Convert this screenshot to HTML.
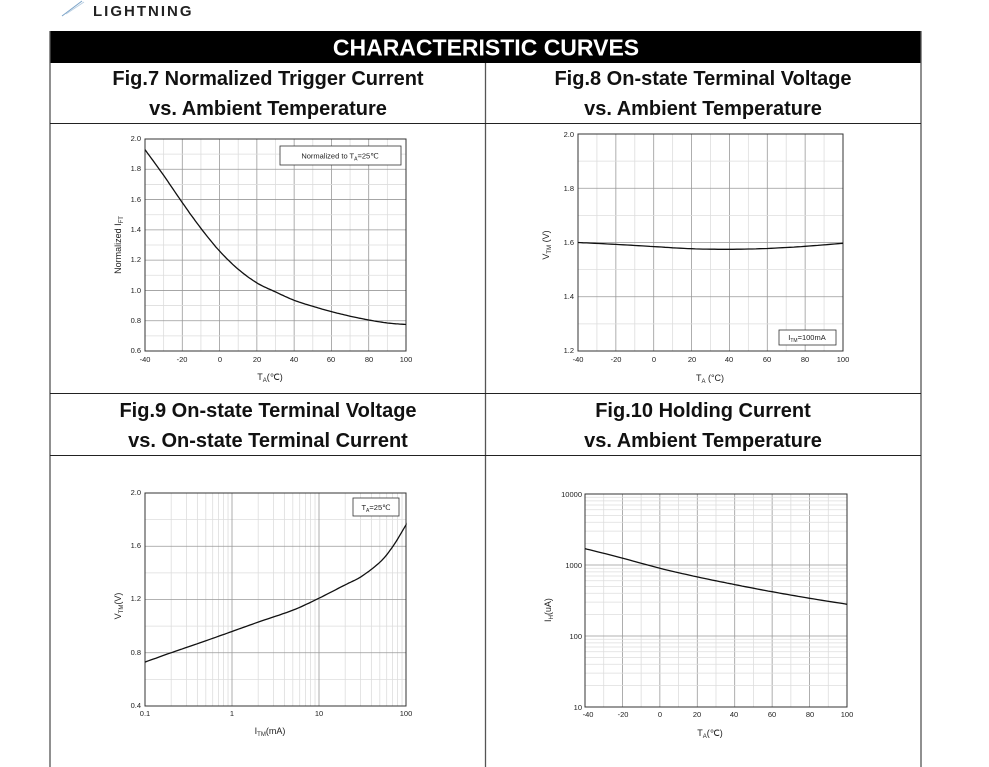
<!DOCTYPE html>
<html><head><meta charset="utf-8"><style>
body{margin:0;background:#fff;}
svg{display:block;font-family:"Liberation Sans",Arial,sans-serif;}
.t{font-weight:bold;font-size:20px;fill:#111;text-anchor:middle}
.tk{font-size:7.5px;fill:#222}
.ax{font-size:9px;fill:#222}
</style></head><body>
<svg id="s" width="989" height="767" viewBox="0 0 989 767" xmlns="http://www.w3.org/2000/svg">
<line x1="62" y1="16" x2="82" y2="1" stroke="#7aa3c8" stroke-width="1"/>
<line x1="66" y1="14" x2="84" y2="2" stroke="#b9cfe3" stroke-width="1"/>
<text x="93" y="16" font-size="15" font-weight="bold" fill="#222" letter-spacing="2">LIGHTNING</text>
<rect x="50" y="31" width="871" height="32" fill="#000"/>
<text x="486" y="55.5" fill="#fff" font-size="23" font-weight="bold" text-anchor="middle">CHARACTERISTIC CURVES</text>
<g stroke="#555" stroke-width="1.3" fill="none">
<line x1="50" y1="31" x2="50" y2="767"/><line x1="921" y1="31" x2="921" y2="767"/>
<line x1="485.5" y1="63" x2="485.5" y2="767"/>
</g>
<g stroke="#222" stroke-width="1"><line x1="50" y1="123.5" x2="921" y2="123.5"/><line x1="50" y1="393.5" x2="921" y2="393.5"/><line x1="50" y1="455.5" x2="921" y2="455.5"/></g>
<text class="t" x="268" y="85">Fig.7 Normalized Trigger Current</text>
<text class="t" x="268" y="115">vs. Ambient Temperature</text>
<text class="t" x="703" y="85">Fig.8 On-state Terminal Voltage</text>
<text class="t" x="703" y="115">vs. Ambient Temperature</text>
<text class="t" x="268" y="417">Fig.9 On-state Terminal Voltage</text>
<text class="t" x="268" y="447">vs. On-state Terminal Current</text>
<text class="t" x="703" y="417">Fig.10 Holding Current</text>
<text class="t" x="703" y="447">vs. Ambient Temperature</text>
<g id="grids"></g>
<g class="tk" text-anchor="end">
<text x="141" y="141">2.0</text><text x="141" y="171">1.8</text><text x="141" y="202">1.6</text><text x="141" y="232">1.4</text><text x="141" y="262">1.2</text><text x="141" y="293">1.0</text><text x="141" y="323">0.8</text><text x="141" y="353">0.6</text>
</g>
<g class="tk" text-anchor="middle">
<text x="145" y="362">-40</text><text x="182" y="362">-20</text><text x="220" y="362">0</text><text x="257" y="362">20</text><text x="294" y="362">40</text><text x="331" y="362">60</text><text x="369" y="362">80</text><text x="406" y="362">100</text>
</g>
<text class="ax" x="270" y="380" text-anchor="middle">T<tspan font-size="6" dy="2">A</tspan><tspan dy="-2">(℃)</tspan></text>
<text class="ax" transform="translate(121,245) rotate(-90)" text-anchor="middle">Normalized I<tspan font-size="6" dy="2">FT</tspan></text>
<rect x="280" y="146" width="121" height="19" fill="#fff" stroke="#333" stroke-width="0.8"/>
<text class="tk" x="340" y="158.5" text-anchor="middle" font-size="8">Normalized to T<tspan font-size="5" dy="2">A</tspan><tspan dy="-2">=25℃</tspan></text>
<g class="tk" text-anchor="end">
<text x="574" y="137">2.0</text><text x="574" y="191">1.8</text><text x="574" y="245">1.6</text><text x="574" y="299">1.4</text><text x="574" y="353">1.2</text>
</g>
<g class="tk" text-anchor="middle">
<text x="578" y="362">-40</text><text x="616" y="362">-20</text><text x="654" y="362">0</text><text x="692" y="362">20</text><text x="729" y="362">40</text><text x="767" y="362">60</text><text x="805" y="362">80</text><text x="843" y="362">100</text>
</g>
<text class="ax" x="710" y="381" text-anchor="middle">T<tspan font-size="6" dy="2">A</tspan><tspan dy="-2"> (°C)</tspan></text>
<text class="ax" transform="translate(549,245) rotate(-90)" text-anchor="middle" font-size="10">V<tspan font-size="6" dy="2">TM</tspan><tspan dy="-2"> (V)</tspan></text>
<rect x="779" y="330" width="57" height="15" fill="#fff" stroke="#333" stroke-width="0.8"/>
<text class="tk" x="807" y="340" text-anchor="middle" font-size="8">I<tspan font-size="5" dy="2">TM</tspan><tspan dy="-2">=100mA</tspan></text>
<g class="tk" text-anchor="end">
<text x="141" y="495">2.0</text><text x="141" y="548">1.6</text><text x="141" y="601">1.2</text><text x="141" y="655">0.8</text><text x="141" y="708">0.4</text>
</g>
<g class="tk" text-anchor="middle">
<text x="145" y="716">0.1</text><text x="232" y="716">1</text><text x="319" y="716">10</text><text x="406" y="716">100</text>
</g>
<text class="ax" x="270" y="734" text-anchor="middle">I<tspan font-size="6" dy="2">TM</tspan><tspan dy="-2">(mA)</tspan></text>
<text class="ax" transform="translate(121,606) rotate(-90)" text-anchor="middle">V<tspan font-size="6" dy="2">TM</tspan><tspan dy="-2">(V)</tspan></text>
<rect x="353" y="498" width="46" height="18" fill="#fff" stroke="#333" stroke-width="0.8"/>
<text class="tk" x="376" y="510" text-anchor="middle" font-size="8">T<tspan font-size="5" dy="2">A</tspan><tspan dy="-2">=25℃</tspan></text>
<g class="tk" text-anchor="end">
<text x="582" y="497">10000</text><text x="582" y="568">1000</text><text x="582" y="639">100</text><text x="582" y="710">10</text>
</g>
<g class="tk" text-anchor="middle">
<text x="588" y="717">-40</text><text x="623" y="717">-20</text><text x="660" y="717">0</text><text x="697" y="717">20</text><text x="734" y="717">40</text><text x="772" y="717">60</text><text x="810" y="717">80</text><text x="847" y="717">100</text>
</g>
<text class="ax" x="710" y="736" text-anchor="middle">T<tspan font-size="6" dy="2">A</tspan><tspan dy="-2">(℃)</tspan></text>
<text class="ax" transform="translate(551,610) rotate(-90)" text-anchor="middle">I<tspan font-size="6" dy="2">H</tspan><tspan dy="-2">(uA)</tspan></text>
</svg>
<script>
var NS="http://www.w3.org/2000/svg",g=document.getElementById("grids");
function L(x1,y1,x2,y2,c,w){var l=document.createElementNS(NS,"line");l.setAttribute("x1",x1);l.setAttribute("y1",y1);l.setAttribute("x2",x2);l.setAttribute("y2",y2);l.setAttribute("stroke",c);l.setAttribute("stroke-width",w);g.appendChild(l);}
function P(pts,w){var p=document.createElementNS(NS,"polyline");p.setAttribute("points",pts.map(function(a){return a[0].toFixed(1)+","+a[1].toFixed(1)}).join(" "));p.setAttribute("fill","none");p.setAttribute("stroke","#111");p.setAttribute("stroke-width",w||1.3);g.appendChild(p);}
function box(x0,y0,x1,y1){var r=document.createElementNS(NS,"rect");r.setAttribute("x",x0);r.setAttribute("y",y0);r.setAttribute("width",x1-x0);r.setAttribute("height",y1-y0);r.setAttribute("fill","none");r.setAttribute("stroke","#333");r.setAttribute("stroke-width",1);g.appendChild(r);}
function linGrid(x0,y0,x1,y1,nx,ny,mx,my){
 var i;for(i=0;i<=nx*mx;i++){var x=x0+(x1-x0)*i/(nx*mx);L(x,y0,x,y1,i%mx?"#ddd":"#999",0.8);}
 for(i=0;i<=ny*my;i++){var y=y0+(y1-y0)*i/(ny*my);L(x0,y,x1,y,i%my?"#ddd":"#999",0.8);}
}
function spline(data,fx,fy){var out=[];for(var i=0;i<data.length-1;i++){var p0=data[Math.max(i-1,0)],p1=data[i],p2=data[i+1],p3=data[Math.min(i+2,data.length-1)];for(var t=0;t<1;t+=0.1){var t2=t*t,t3=t2*t;var f=function(a,b,c,d){return 0.5*(2*b+(-a+c)*t+(2*a-5*b+4*c-d)*t2+(-a+3*b-3*c+d)*t3)};out.push([fx(f(p0[0],p1[0],p2[0],p3[0])),fy(f(p0[1],p1[1],p2[1],p3[1]))]);}}var l=data[data.length-1];out.push([fx(l[0]),fy(l[1])]);return out;}
linGrid(145,139,406,351,7,7,2,2);box(145,139,406,351);
P(spline([[-40,1.93],[-30,1.76],[-20,1.58],[-10,1.41],[0,1.26],[10,1.14],[20,1.05],[30,0.99],[40,0.935],[50,0.895],[60,0.86],[70,0.83],[80,0.805],[90,0.785],[100,0.775]],function(t){return 145+(t+40)/140*261},function(v){return 351-(v-0.6)/1.4*212}));
linGrid(578,134,843,351,7,4,2,2);box(578,134,843,351);
P(spline([[-40,1.60],[-20,1.593],[0,1.585],[20,1.577],[40,1.575],[60,1.578],[80,1.586],[100,1.597]],function(t){return 578+(t+40)/140*265},function(v){return 351-(v-1.2)/0.8*217}));
(function(){var x0=145,x1=406,y0=493,y1=706,dw=(x1-x0)/3;
 for(var d=0;d<3;d++)for(var k=2;k<10;k++){var x=x0+dw*(d+Math.log10(k));L(x,y0,x,y1,"#ddd",0.8);}
 for(var i=0;i<=8;i++){var y=y0+(y1-y0)*i/8;L(x0,y,x1,y,i%2?"#ddd":"#999",0.8);}
 for(d=0;d<=3;d++)L(x0+dw*d,y0,x0+dw*d,y1,"#999",0.8);
 box(x0,y0,x1,y1);
 P(spline([[-1,0.73],[-0.7,0.80],[-0.3,0.89],[0,0.96],[0.3,1.03],[0.7,1.12],[1,1.21],[1.3,1.31],[1.48,1.37],[1.7,1.48],[1.85,1.6],[2,1.76]],function(l){return x0+(l+1)*dw},function(v){return y1-(v-0.4)/1.6*(y1-y0)}));
})();
(function(){var x0=585,x1=847,y0=494,y1=707,dh=(y1-y0)/3;
 for(var i=0;i<=14;i++){var x=x0+(x1-x0)*i/14;L(x,y0,x,y1,i%2?"#ddd":"#999",0.8);}
 for(var d=0;d<3;d++)for(var k=2;k<10;k++){var y=y1-dh*(d+Math.log10(k));L(x0,y,x1,y,"#ddd",0.8);}
 for(d=0;d<=3;d++)L(x0,y1-dh*d,x1,y1-dh*d,"#999",0.8);
 box(x0,y0,x1,y1);
 P(spline([[-40,1700],[-20,1250],[0,900],[20,680],[40,530],[60,420],[80,340],[100,280]].map(function(a){return [a[0],Math.log10(a[1])]}),function(t){return x0+(t+40)/140*(x1-x0)},function(l){return y1-(l-1)*dh}));
})();
</script>
</body></html>
